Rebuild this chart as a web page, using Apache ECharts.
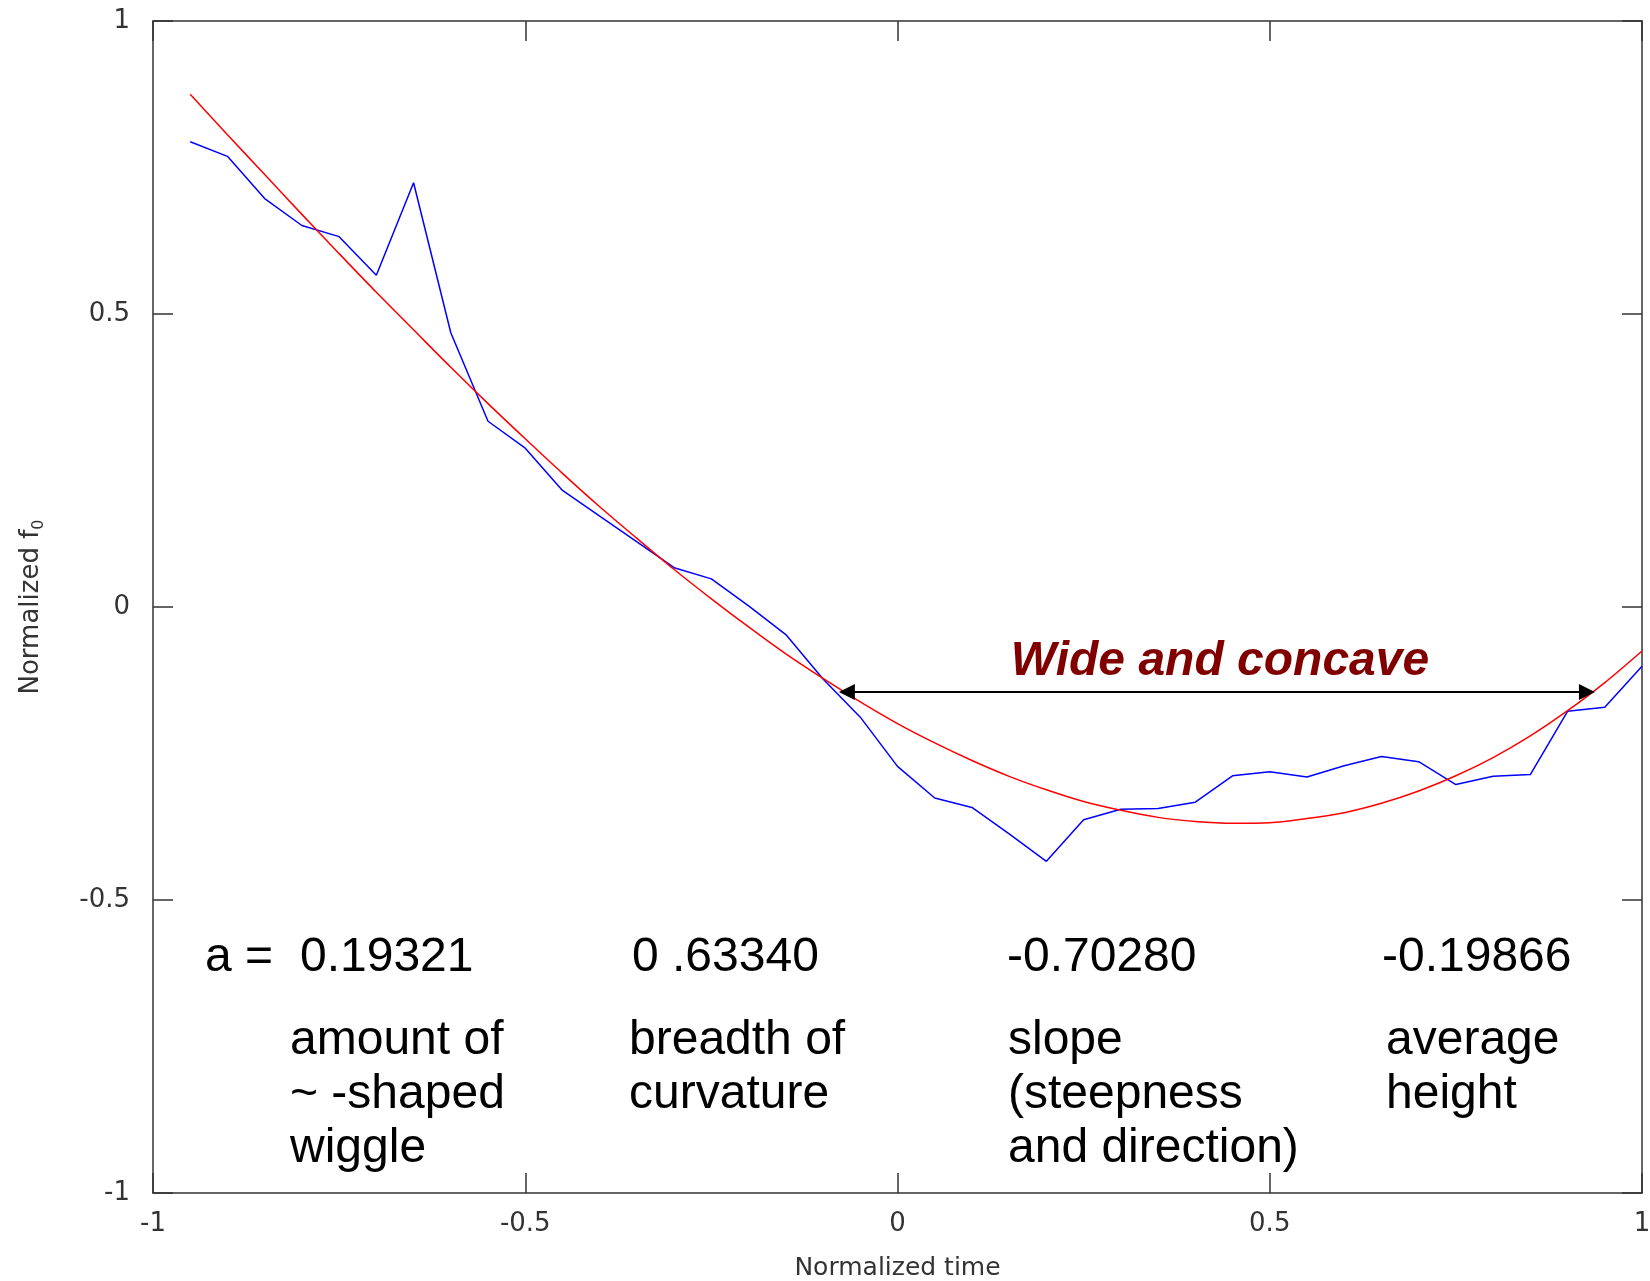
<!DOCTYPE html>
<html>
<head>
<meta charset="utf-8">
<title>Normalized f0 contour and its polynomial fit</title>
<script src="https://cdn.jsdelivr.net/npm/echarts@6/dist/echarts.min.js"></script>
<style>
  html, body { margin: 0; padding: 0; background: #ffffff; }
  #chart { width: 1650px; height: 1281px; }
</style>
</head>
<body>
<div id="chart"></div>
<script>
// Normalized sample times shared by both contours
const times = [
  -0.95, -0.90, -0.85, -0.80, -0.75, -0.70, -0.65, -0.60, -0.55, -0.50,
  -0.45, -0.40, -0.35, -0.30, -0.25, -0.20, -0.15, -0.10, -0.05, 0.00,
   0.05,  0.10,  0.15,  0.20,  0.25,  0.30,  0.35,  0.40,  0.45, 0.50,
   0.55,  0.60,  0.65,  0.70,  0.75,  0.80,  0.85,  0.90,  0.95, 1.00
];

// Measured (normalized) f0 contour
const measuredF0 = [
   0.794,  0.769,  0.697,  0.651,  0.632,  0.566,  0.724,  0.468,  0.317,  0.271,
   0.199,  0.155,  0.111,  0.067,  0.048,  0.002, -0.047, -0.123, -0.188, -0.272,
  -0.326, -0.342, -0.387, -0.434, -0.363, -0.345, -0.344, -0.333, -0.288, -0.281,
  -0.290, -0.271, -0.255, -0.264, -0.303, -0.289, -0.286, -0.178, -0.171, -0.101
];

// Fitted cubic contour
const fittedF0 = [
   0.875,  0.806,  0.738,  0.670,  0.603,  0.537,  0.473,  0.409,  0.347,  0.287,
   0.228,  0.171,  0.117,  0.064,  0.014, -0.034, -0.080, -0.122, -0.162, -0.199,
  -0.232, -0.262, -0.289, -0.312, -0.332, -0.347, -0.359, -0.366, -0.369, -0.368,
  -0.361, -0.351, -0.335, -0.314, -0.288, -0.257, -0.220, -0.177, -0.129, -0.075
];

// Axis ticks
const xTicks = [-1, -0.5, 0, 0.5, 1];
const yTicks = [-1, -0.5, 0, 0.5, 1];

// Fit coefficients and what each one describes
const coefficients = ['0.19321', '0 .63340', '-0.70280', '-0.19866'];
const coefficientNotes = [
  ['amount of', '~ -shaped', 'wiggle'],
  ['breadth of', 'curvature'],
  ['slope', '(steepness', 'and direction)'],
  ['average', 'height']
];

// Extent of the wide, concave stretch (time range, f0 level)
const spanLabel = 'Wide and concave';
const spanLevel = -0.145;
const spanStart = -0.068;
const spanEnd = 0.926;

// ---- layout ----
const textFont = '48px "Liberation Sans", Arial, Helvetica, sans-serif';
const valueX = [300, 632, 1007, 1382];
const noteX = [290, 629, 1008, 1386];
const valueMidY = 957.5;
const noteMidY = [1041, 1095, 1149];

const pairs = (ys) => times.map((t, i) => [t, ys[i]]);

const axisColor = '#333333';
const tickFont = { fontFamily: '"DejaVu Sans", sans-serif', fontSize: 26, color: '#333333' };
const titleFont = { fontFamily: '"DejaVu Sans", sans-serif', fontSize: 25, color: '#333333' };

function frameAxis(position, showLabels, extra) {
  return Object.assign({
    type: 'value',
    position: position,
    scale: false,
    axisLine: { show: true, onZero: false, lineStyle: { color: axisColor, width: 1.5 } },
    axisTick: { show: true, inside: true, length: 20, lineStyle: { color: axisColor, width: 1.5 } },
    splitLine: { show: false },
    axisLabel: Object.assign({ show: showLabels }, tickFont)
  }, extra);
}

const xRange = { min: xTicks[0], max: xTicks[xTicks.length - 1], interval: xTicks[1] - xTicks[0] };
const yRange = { min: yTicks[0], max: yTicks[yTicks.length - 1], interval: yTicks[1] - yTicks[0] };

function textEl(text, x, y, font, fill, align) {
  return {
    type: 'text',
    silent: true,
    style: {
      text: text, x: x, y: y, font: font, fill: fill,
      align: align || 'left', verticalAlign: 'middle',
      textAlign: align || 'left', textVerticalAlign: 'middle'
    }
  };
}

const graphics = [];
graphics.push(textEl('a =', 205, valueMidY, textFont, '#000'));
coefficients.forEach((c, i) => graphics.push(textEl(c, valueX[i], valueMidY, textFont, '#000')));
coefficientNotes.forEach((lines, i) => {
  lines.forEach((line, j) => graphics.push(textEl(line, noteX[i], noteMidY[j], textFont, '#000')));
});
graphics.push(textEl(spanLabel, 1220, 662, 'italic bold 48px "Liberation Sans", Arial, Helvetica, sans-serif', '#800000', 'center'));

const chart = echarts.init(document.getElementById('chart'), null, { renderer: 'canvas' });

chart.setOption({
  animation: false,
  backgroundColor: '#ffffff',
  grid: { left: 153, right: 8, top: 21, bottom: 88, containLabel: false, outerBoundsMode: 'none' },
  xAxis: [
    frameAxis('bottom', true, Object.assign({
      name: 'Normalized time',
      nameLocation: 'middle',
      nameGap: 63,
      nameTextStyle: titleFont,
      axisLabel: Object.assign({ show: true, margin: 18 }, tickFont)
    }, xRange)),
    frameAxis('top', false, Object.assign({}, xRange))
  ],
  yAxis: [
    frameAxis('left', true, Object.assign({
      name: '{n|Normalized f}{s|0}',
      nameLocation: 'middle',
      nameGap: 106,
      nameTextStyle: {
        color: '#333333',
        fontFamily: '"DejaVu Sans", sans-serif',
        rich: {
          n: { fontSize: 26, lineHeight: 31, color: '#333333', fontFamily: '"DejaVu Sans", sans-serif' },
          s: { fontSize: 16, lineHeight: 16, verticalAlign: 'bottom', color: '#333333', fontFamily: '"DejaVu Sans", sans-serif' }
        }
      },
      axisLabel: Object.assign({ show: true, margin: 23 }, tickFont)
    }, yRange)),
    frameAxis('right', false, Object.assign({}, yRange))
  ],
  series: [
    {
      name: 'measured',
      type: 'line',
      data: pairs(measuredF0),
      showSymbol: false,
      symbol: 'none',
      lineStyle: { color: '#0000ff', width: 1.5 },
      z: 2
    },
    {
      name: 'fit',
      type: 'line',
      data: pairs(fittedF0),
      showSymbol: false,
      symbol: 'none',
      smooth: 0.3,
      lineStyle: { color: '#ff0000', width: 1.5 },
      z: 3,
      markLine: {
        silent: true,
        symbol: ['triangle', 'triangle'],
        symbolSize: [16, 16],
        label: { show: false },
        lineStyle: { color: '#000000', width: 2, type: 'solid' },
        data: [[
          { coord: [spanStart, spanLevel] },
          { coord: [spanEnd, spanLevel] }
        ]]
      }
    }
  ],
  graphic: graphics
});
</script>
</body>
</html>
